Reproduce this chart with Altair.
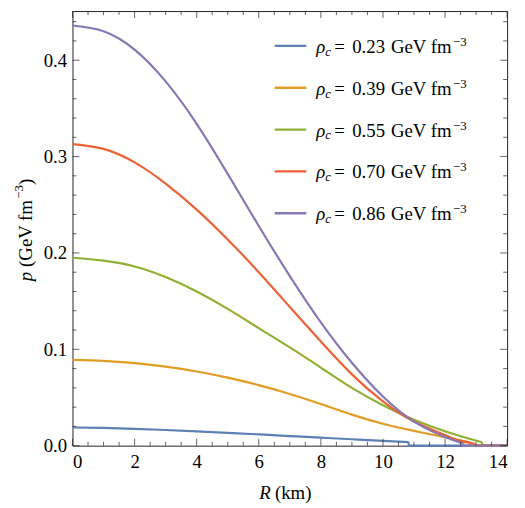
import altair as alt
import pandas as pd

# ---------------- data ----------------
series_names = ["0.23", "0.39", "0.55", "0.70", "0.86"]
colors = ["#5E81B5", "#E19C24", "#8FB032", "#EB6235", "#8778B3"]

R_023 = [0, 1, 2, 3, 4, 5, 6, 7, 8, 9, 10, 10.83]
p_023 = [0.0189, 0.0185, 0.0175, 0.0163, 0.0149, 0.0133, 0.0117, 0.0100, 0.0083, 0.0067, 0.0050, 0.0036]

R_039 = [0, 1, 2, 3, 4, 5, 6, 7, 8, 9, 10, 11, 12, 12.8]
p_039 = [0.0890, 0.0880, 0.0856, 0.0820, 0.0770, 0.0706, 0.0628, 0.0537, 0.0432, 0.0322, 0.0227, 0.0153, 0.0088, 0.0035]

R_055 = [0, 1, 2, 3, 4, 5, 6, 7, 8, 9, 10, 11, 12, 12.7, 13.19]
p_055 = [0.195, 0.192, 0.186, 0.175, 0.160, 0.142, 0.122, 0.102, 0.081, 0.060, 0.042, 0.027, 0.015, 0.008, 0.0035]

R_070 = [0, 1, 2, 3, 4, 5, 6, 7, 8, 9, 10, 11, 12, 12.5, 12.96]
p_070 = [0.313, 0.308, 0.294, 0.272, 0.245, 0.214, 0.180, 0.144, 0.108, 0.074, 0.046, 0.025, 0.011, 0.005, 0.002]

R_086 = [0, 1, 2, 3, 4, 5, 6, 7, 8, 9, 10, 11, 12, 12.6]
p_086 = [0.436, 0.430, 0.411, 0.378, 0.334, 0.282, 0.228, 0.176, 0.128, 0.086, 0.051, 0.025, 0.009, 0.002]

R_series = [R_023, R_039, R_055, R_070, R_086]
p_series = [p_023, p_039, p_055, p_070, p_086]

R_max = 14.0
x_major = [0, 2, 4, 6, 8, 10, 12, 14]
x_minor = [i * 0.5 for i in range(29)]
y_major = [0.0, 0.1, 0.2, 0.3, 0.4]
y_minor = [round(i * 0.02, 2) for i in range(23)]

# ---------------- layout ----------------
W, H = 440, 440
P_TOP = 0.451
SERIF = "Liberation Serif"
FS = 19

xs = alt.Scale(domain=[0, 14], nice=False, zero=False)
ys = alt.Scale(domain=[0, P_TOP], nice=False, zero=False)

x_axis = alt.Axis(values=x_major, ticks=False, domain=False, grid=False, title=None,
                  labelFont=SERIF, labelFontSize=FS, labelColor="black", labelPadding=7,
                  format="d")
y_axis = alt.Axis(values=y_major, ticks=False, domain=False, grid=False, title=None,
                  labelFont=SERIF, labelFontSize=FS, labelColor="black", labelPadding=6,
                  format=".1f")

def X(field="R"):
    return alt.X(f"{field}:Q", scale=xs, axis=x_axis)

def Y(field="p"):
    return alt.Y(f"{field}:Q", scale=ys, axis=y_axis)

layers = []
for i, (name, col) in enumerate(zip(series_names, colors)):
    df = pd.DataFrame({"R": R_series[i], "p": p_series[i]})
    tail = pd.DataFrame({"R": [R_series[i][-1], R_series[i][-1], R_max],
                         "p": [p_series[i][-1], 0.0, 0.0]})
    layers.append(alt.Chart(tail).mark_line(strokeWidth=2.2, color=col, interpolate="linear")
                  .encode(x=X(), y=Y()))
    layers.append(alt.Chart(df).mark_line(strokeWidth=2.2, color=col, interpolate="natural")
                  .encode(x=X(), y=Y(), order=alt.Order("R:Q")))

# inward ticks (major + minor), on all four sides
TC = "#222222"
def xticks(vals, size, top):
    d = pd.DataFrame({"R": vals})
    return alt.Chart(d).mark_tick(size=size, thickness=1, color=TC,
                                  yOffset=(size / 2 if top else -size / 2)).encode(
        x=X(), y=alt.value(0 if top else H))

def yticks(vals, size, right):
    d = pd.DataFrame({"p": vals})
    return alt.Chart(d).mark_tick(size=size, thickness=1, color=TC,
                                  xOffset=(-size / 2 if right else size / 2)).encode(
        y=Y(), x=alt.value(W if right else 0))

minor_x = [v for v in x_minor if v not in x_major]
minor_y = [v for v in y_minor if round(v, 2) not in [round(m, 2) for m in y_major]]
for top in (False, True):
    layers.append(xticks(x_major, 7, top))
    layers.append(xticks(minor_x, 4, top))
for right in (False, True):
    layers.append(yticks(y_major, 7, right))
    layers.append(yticks(minor_y, 4, right))

one = pd.DataFrame({"a": [0]})
def txt(text, x, y, size=FS, italic=False, align="left", angle=0):
    kw = dict(text=text, font=SERIF, fontSize=size, align=align, baseline="alphabetic",
              color="black")
    if italic:
        kw["fontStyle"] = "italic"
    if angle:
        kw["angle"] = angle
    return alt.Chart(one).mark_text(**kw).encode(x=alt.value(x), y=alt.value(y))

# axis titles (page coords minus plot origin 73.3, 8)
layers.append(txt("R", 200.7, 494, italic=True, align="right"))
layers.append(txt("(km)", 205.0, 494))
layers.append(txt("p", -41.0, 264, italic=True, align="right", angle=270))
layers.append(txt("(GeV fm", -41.0, 259, align="left", angle=270))
layers.append(txt("\u22123", -50.0, 190, size=13, align="left", angle=270))
layers.append(txt(")", -41.0, 176, align="left", angle=270))

# ---------------- legend (rows placed in plot space) ----------------
leg = pd.DataFrame({"row": list(range(5)), "val": series_names, "col": colors})
lbase = alt.Chart(leg).transform_calculate(
    ly=f"(({H} - (35.3 + 42.35 * datum.row)) / {H}) * {P_TOP}")
ly = Y("ly")
leg_layers = [
    lbase.mark_rule(strokeWidth=2.4).encode(x=alt.value(204.7), x2=alt.value(236.7), y=ly,
                                             color=alt.Color("col:N", scale=None, legend=None)),
    lbase.mark_text(text="\u03c1", font=SERIF, fontSize=FS, fontStyle="italic", align="left",
                    baseline="alphabetic", dy=7).encode(x=alt.value(246.7), y=ly),
    lbase.mark_text(text="c", font=SERIF, fontSize=13, fontStyle="italic", align="left",
                    baseline="alphabetic", dy=10).encode(x=alt.value(255.9), y=ly),
    lbase.mark_text(text="=", font=SERIF, fontSize=FS, align="left",
                    baseline="alphabetic", dy=7).encode(x=alt.value(265.0), y=ly),
    lbase.mark_text(font=SERIF, fontSize=FS, align="left",
                    baseline="alphabetic", dy=7).encode(x=alt.value(283.2), y=ly, text="val:N"),
    lbase.mark_text(text="GeV fm", font=SERIF, fontSize=FS, align="right",
                    baseline="alphabetic", dy=7).encode(x=alt.value(383.7), y=ly),
    lbase.mark_text(text="\u22123", font=SERIF, fontSize=13, align="left",
                    baseline="alphabetic", dy=0).encode(x=alt.value(385.2), y=ly),
]
layers.extend(leg_layers)

chart = alt.layer(*layers).properties(
    width=W, height=H,
    autosize=alt.AutoSizeParams(type="none"),
    padding={"left": 65.3, "top": 0, "right": 10, "bottom": 60},
    background="white",
).configure_view(stroke="#222222", strokeWidth=1)

chart.save("out.html", embed_options={"renderer": "svg", "actions": False})
